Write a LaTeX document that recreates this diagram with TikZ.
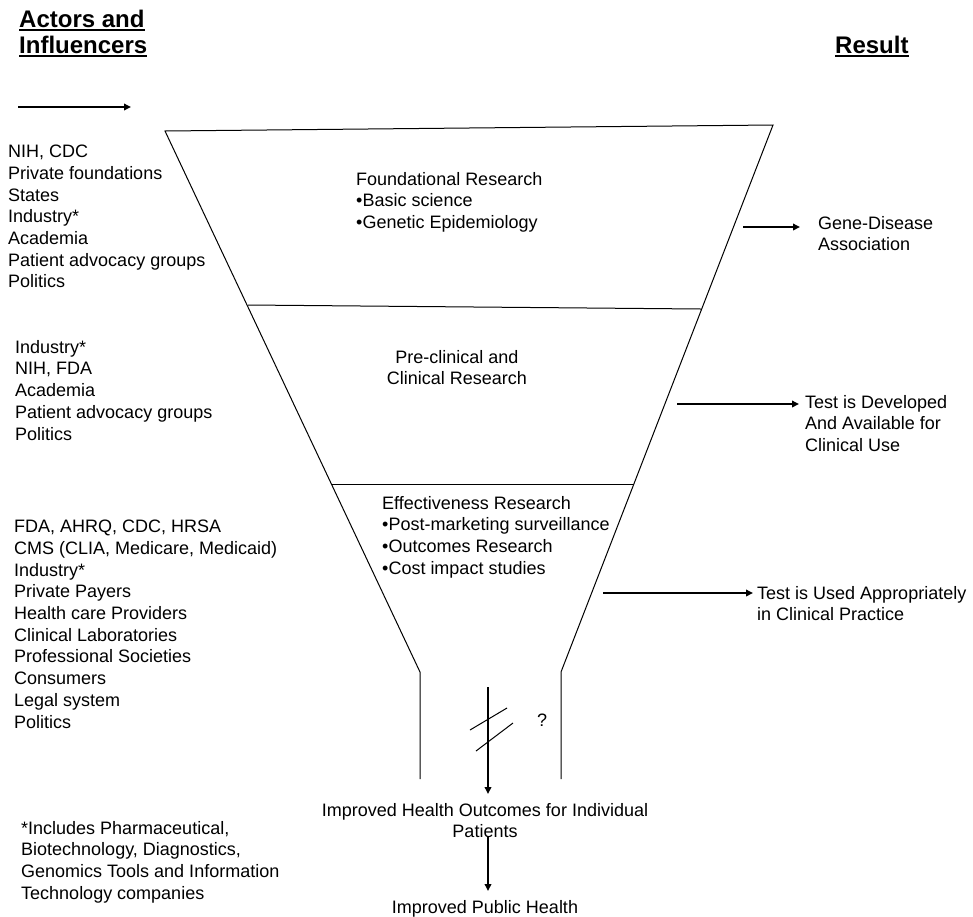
\documentclass[tikz,border=0pt]{standalone}
\usepackage{fontspec}
\setmainfont{Liberation Sans}
\usetikzlibrary{arrows.meta}
\newcommand\hdrul[1]{\setbox0\hbox{#1}\rlap{\usebox0}\rule[-4pt]{\wd0}{2.5pt}}
\tikzset{
  txt/.style={inner sep=0pt, anchor=north west, align=left, font=\fontsize{18}{21.7}\selectfont},
  stxt/.style={inner sep=0pt, anchor=base west, font=\fontsize{18}{21.7}\selectfont},
  ctxt/.style={inner sep=0pt, anchor=north, align=center, font=\fontsize{18}{21.7}\selectfont},
  hdr/.style={inner sep=0pt, anchor=north west, align=left, font=\fontsize{24}{26}\selectfont\bfseries},
  funnel/.style={line width=1pt, black},
  arr/.style={line width=1.8pt, -{Triangle[length=7pt,width=6.5pt]}},
  hatch/.style={line width=1pt}
}
\begin{document}
\begin{tikzpicture}[x=1pt,y=-1pt]
\useasboundingbox (0,0) rectangle (973,916);

% headers
\node[hdr] (h1) at (19,9.7) {\hdrul{Actors and}\\\hdrul{Influencers}};
\node[hdr, anchor=base west] (h2) at (835,53) {\hdrul{Result}};

% top-left arrow
\coordinate (a0s) at (18,107);
\coordinate (a0e) at (131,107);
\draw[arr] (a0s) -- (a0e);

% funnel
\coordinate (tl) at (165,131);
\coordinate (tr) at (773,125);
\coordinate (bl) at (420,672);
\coordinate (br) at (561,672);
\coordinate (bll) at (420,779);
\coordinate (brr) at (561,779);
\draw[funnel] (bll) -- (bl) -- (tl) -- (tr) -- (br) -- (brr);
\coordinate (d1l) at (248,305);
\coordinate (d1r) at (701,309);
\coordinate (d2l) at (331,484);
\coordinate (d2r) at (634,484);
\draw[funnel] (d1l) -- (d1r);
\draw[funnel] (d2l) -- (d2r);

% funnel texts
\node[txt] (fr) at (356,172) {Foundational Research\\•Basic science\\•Genetic Epidemiology};
\node[ctxt] (pc) at (457,350) {Pre-clinical and\\Clinical Research};
\node[txt] (er) at (382,496) {Effectiveness Research\\•Post-marketing surveillance\\•Outcomes Research\\•Cost impact studies};

% left lists
\node[txt] (g1) at (8,145) {NIH, CDC\\Private foundations\\States\\Industry*\\Academia\\Patient advocacy groups\\Politics};
\node[txt] (g2) at (15,340) {Industry*\\NIH, FDA\\Academia\\Patient advocacy groups\\Politics};
\node[txt] (g3) at (14,520) {FDA, AHRQ, CDC, HRSA\\CMS (CLIA, Medicare, Medicaid)\\Industry*\\Private Payers\\Health care Providers\\Clinical Laboratories\\Professional Societies\\Consumers\\Legal system\\Politics};
\node[txt] (fn) at (21,821) {*Includes Pharmaceutical,\\Biotechnology, Diagnostics,\\Genomics Tools and Information\\Technology companies};

% results
\node[txt] (r1) at (818,216) {Gene-Disease\\Association};
\node[txt] (r2) at (805,395) {Test is Developed\\And Available for\\Clinical Use};
\node[txt] (r3) at (757,586) {Test is Used Appropriately\\in Clinical Practice};
\coordinate (a1s) at (743,227);
\coordinate (a1e) at (800,227);
\draw[arr] (a1s) -- (a1e);
\coordinate (a2s) at (677,404);
\coordinate (a2e) at (799,404);
\draw[arr] (a2s) -- (a2e);
\coordinate (a3s) at (603,593);
\coordinate (a3e) at (753,593);
\draw[arr] (a3s) -- (a3e);

% bottom
\node[ctxt] (ih) at (485,803) {Improved Health Outcomes for Individual\\Patients};
\node[stxt, anchor=base] (ph) at (485,913) {Improved Public Health};
\node[stxt] (q) at (537,726) {?};
\coordinate (b1s) at (488,687);
\coordinate (b1e) at (488,794);
\draw[arr] (b1s) -- (b1e);
\coordinate (b2s) at (488,837);
\coordinate (b2e) at (488,891);
\draw[arr] (b2s) -- (b2e);
\coordinate (h1a) at (470,730);
\coordinate (h1b) at (507,708);
\coordinate (h2a) at (476,751);
\coordinate (h2b) at (513,723);
\draw[hatch] (h1a) -- (h1b);
\draw[hatch] (h2a) -- (h2b);
\end{tikzpicture}
\end{document}
